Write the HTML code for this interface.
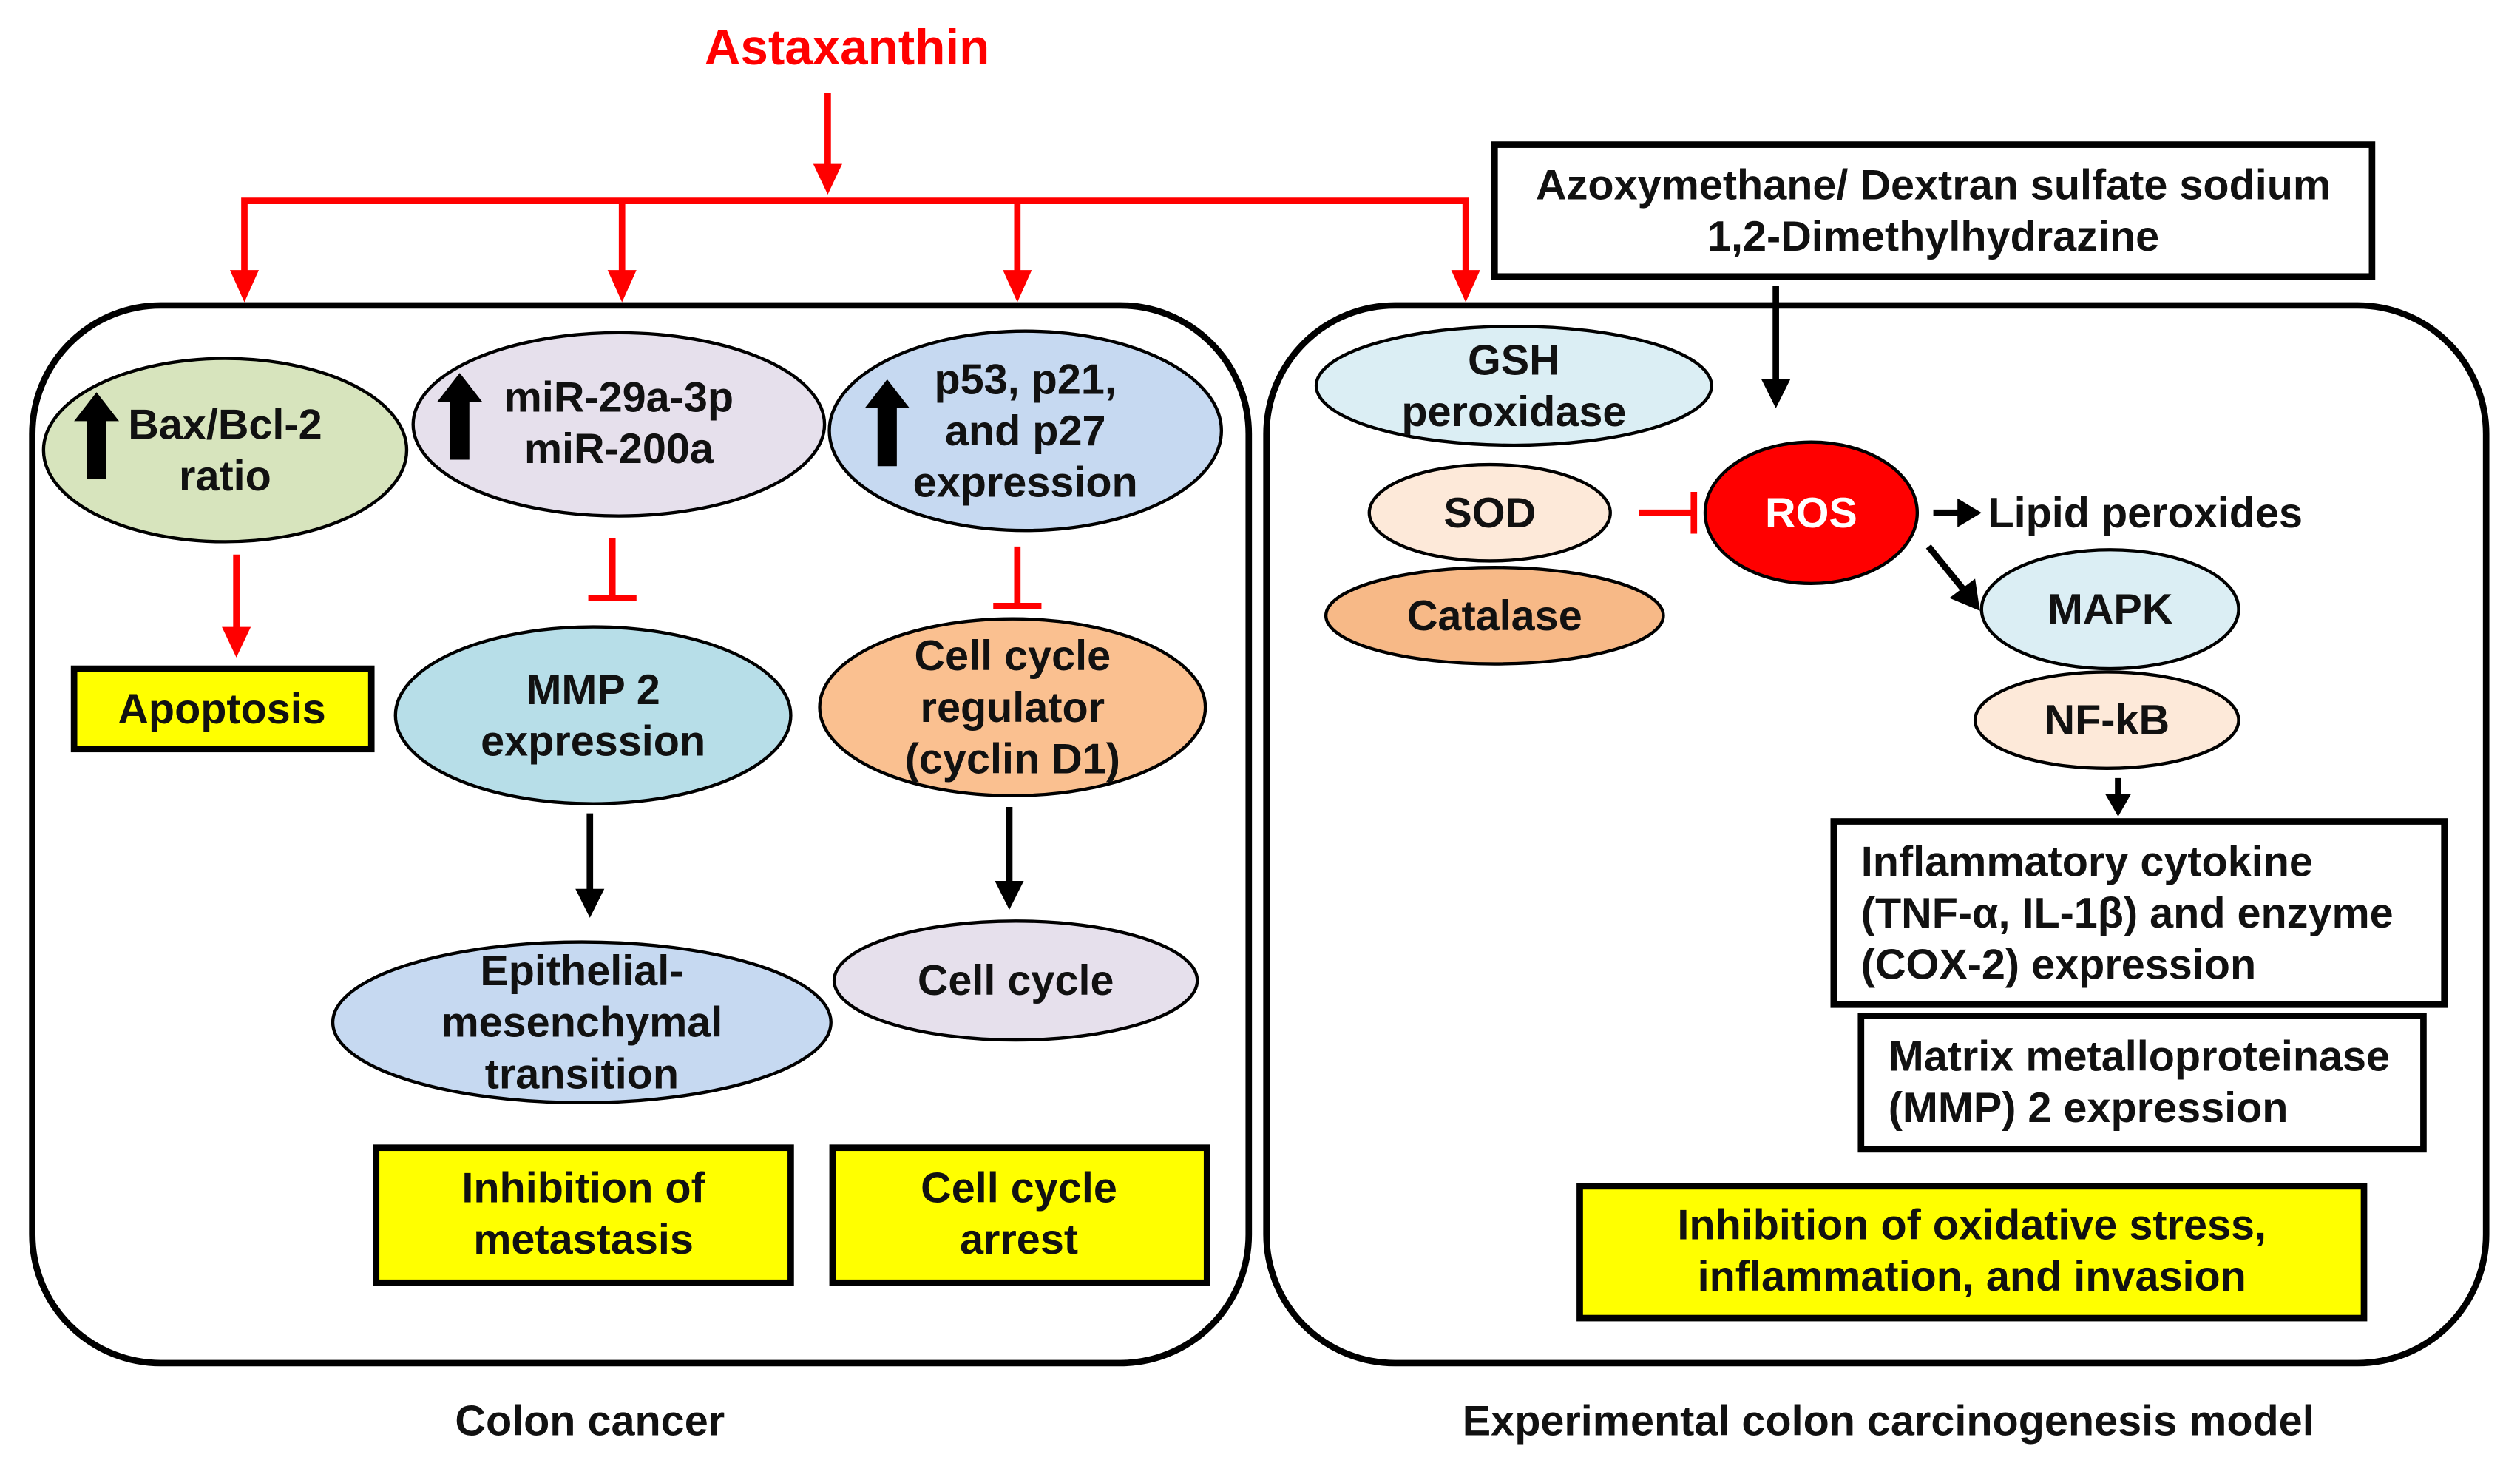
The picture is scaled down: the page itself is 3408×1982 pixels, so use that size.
<!DOCTYPE html>
<html><head><meta charset="utf-8"><style>
html,body{margin:0;padding:0;background:#fff;}
svg{display:block;}
text{font-family:"Liberation Sans",Arial,sans-serif;font-weight:bold;font-size:26.5px;fill:#111;}
</style></head><body>
<svg width="3408" height="1982" viewBox="0 0 1568 912" xmlns="http://www.w3.org/2000/svg">
<rect width="1568" height="912" fill="#fff"/>
<text x="527" y="40" text-anchor="middle" style="fill:#ff0000;font-size:31px">Astaxanthin</text>
<g stroke="#ff0000" stroke-width="4" fill="none">
<line x1="515" y1="58" x2="515" y2="110"/>
<polyline points="152,178 152,125 912,125 912,178"/>
<line x1="387" y1="125" x2="387" y2="178"/>
<line x1="633" y1="125" x2="633" y2="178"/>
</g>
<g fill="#ff0000">
<path d="M506,102 L524,102 L515,121 z"/>
<path d="M143,168 L161,168 L152,188 z"/><path d="M378,168 L396,168 L387,188 z"/>
<path d="M624,168 L642,168 L633,188 z"/><path d="M903,168 L921,168 L912,188 z"/>
</g>
<rect x="20" y="190" width="757" height="658" rx="80" fill="none" stroke="#000" stroke-width="4"/>
<rect x="788" y="190" width="759" height="658" rx="80" fill="none" stroke="#000" stroke-width="4"/>
<rect x="930" y="90" width="546" height="82" fill="#fff" stroke="#000" stroke-width="4"/>
<text x="1203" y="124" text-anchor="middle">Azoxymethane/ Dextran sulfate sodium</text>
<text x="1203" y="156" text-anchor="middle">1,2-Dimethylhydrazine</text>
<line x1="1105" y1="178" x2="1105" y2="244" stroke="#000" stroke-width="4"/>
<path d="M1096,236 L1114,236 L1105,254 z"/>
<g stroke="#000" stroke-width="2">
<ellipse cx="140" cy="280" rx="113" ry="57" fill="#d7e4bd"/>
<ellipse cx="385" cy="264" rx="128" ry="57" fill="#e6e0ec"/>
<ellipse cx="638" cy="268" rx="122" ry="62" fill="#c6d9f1"/>
<ellipse cx="369" cy="445" rx="123" ry="55" fill="#b7dee8"/>
<ellipse cx="630" cy="440" rx="120" ry="55" fill="#fac090"/>
<ellipse cx="362" cy="636" rx="155" ry="50" fill="#c6d9f1"/>
<ellipse cx="632" cy="610" rx="113" ry="37" fill="#e6e0ec"/>
</g>
<g fill="#000">
<path d="M60,244 L74,262 L66,262 L66,298 L54,298 L54,262 L46,262 z"/>
<path d="M286,232 L300,250 L292,250 L292,286 L280,286 L280,250 L272,250 z"/>
<path d="M552,236 L566,254 L558,254 L558,290 L546,290 L546,254 L538,254 z"/>
</g>
<text x="140" y="273" text-anchor="middle">Bax/Bcl-2</text>
<text x="140" y="305" text-anchor="middle">ratio</text>
<text x="385" y="256" text-anchor="middle">miR-29a-3p</text>
<text x="385" y="288" text-anchor="middle">miR-200a</text>
<text x="638" y="245" text-anchor="middle">p53, p21,</text>
<text x="638" y="277" text-anchor="middle">and p27</text>
<text x="638" y="309" text-anchor="middle">expression</text>
<text x="369" y="438" text-anchor="middle">MMP 2</text>
<text x="369" y="470" text-anchor="middle">expression</text>
<text x="630" y="417" text-anchor="middle">Cell cycle</text>
<text x="630" y="449" text-anchor="middle">regulator</text>
<text x="630" y="481" text-anchor="middle">(cyclin D1)</text>
<text x="362" y="613" text-anchor="middle">Epithelial-</text>
<text x="362" y="645" text-anchor="middle">mesenchymal</text>
<text x="362" y="677" text-anchor="middle">transition</text>
<text x="632" y="619" text-anchor="middle">Cell cycle</text>
<line x1="147" y1="345" x2="147" y2="395" stroke="#ff0000" stroke-width="4"/>
<path d="M138,390 L156,390 L147,409 z" fill="#ff0000"/>
<g stroke="#ff0000" stroke-width="4">
<line x1="381" y1="335" x2="381" y2="372"/><line x1="366" y1="372" x2="396" y2="372"/>
<line x1="633" y1="340" x2="633" y2="377"/><line x1="618" y1="377" x2="648" y2="377"/>
</g>
<g stroke="#000" stroke-width="4">
<line x1="367" y1="506" x2="367" y2="560"/><line x1="628" y1="502" x2="628" y2="555"/>
</g>
<path d="M358,553 L376,553 L367,571 z"/><path d="M619,548 L637,548 L628,566 z"/>
<g fill="#ffff00" stroke="#000" stroke-width="4">
<rect x="46" y="416" width="185" height="50"/>
<rect x="234" y="714" width="258" height="84"/>
<rect x="518" y="714" width="233" height="84"/>
<rect x="983" y="738" width="488" height="82"/>
</g>
<text x="138" y="450" text-anchor="middle">Apoptosis</text>
<text x="363" y="748" text-anchor="middle">Inhibition of</text>
<text x="363" y="780" text-anchor="middle">metastasis</text>
<text x="634" y="748" text-anchor="middle">Cell cycle</text>
<text x="634" y="780" text-anchor="middle">arrest</text>
<text x="1227" y="771" text-anchor="middle">Inhibition of oxidative stress,</text>
<text x="1227" y="803" text-anchor="middle">inflammation, and invasion</text>
<g stroke="#000" stroke-width="2">
<ellipse cx="942" cy="240" rx="123" ry="37" fill="#dbeef4"/>
<ellipse cx="927" cy="319" rx="75" ry="30" fill="#fde9d9"/>
<ellipse cx="930" cy="383" rx="105" ry="30" fill="#f7b987"/>
<ellipse cx="1127" cy="319" rx="66" ry="44" fill="#ff0000"/>
<ellipse cx="1313" cy="379" rx="80" ry="37" fill="#dbeef4"/>
<ellipse cx="1311" cy="448" rx="82" ry="30" fill="#fde9d9"/>
</g>
<text x="942" y="233" text-anchor="middle">GSH</text>
<text x="942" y="265" text-anchor="middle">peroxidase</text>
<text x="927" y="328" text-anchor="middle">SOD</text>
<text x="930" y="392" text-anchor="middle">Catalase</text>
<text x="1127" y="328" text-anchor="middle" style="fill:#fff">ROS</text>
<text x="1313" y="388" text-anchor="middle">MAPK</text>
<text x="1311" y="457" text-anchor="middle">NF-kB</text>
<g stroke="#ff0000" stroke-width="4">
<line x1="1020" y1="319" x2="1054" y2="319"/><line x1="1054" y1="306" x2="1054" y2="332"/>
</g>
<line x1="1203" y1="319" x2="1220" y2="319" stroke="#000" stroke-width="4"/>
<path d="M1218,310 L1233,319 L1218,328 z"/>
<text x="1237" y="328">Lipid peroxides</text>
<line x1="1200" y1="340" x2="1222" y2="367" stroke="#000" stroke-width="4"/>
<path d="M1213,372 L1229,360 L1232,380 z"/>
<line x1="1318" y1="484" x2="1318" y2="496" stroke="#000" stroke-width="4"/>
<path d="M1310,494 L1326,494 L1318,508 z"/>
<rect x="1141" y="511" width="380" height="114" fill="#fff" stroke="#000" stroke-width="4"/>
<text x="1158" y="545">Inflammatory cytokine</text>
<text x="1158" y="577">(TNF-α, IL-1β) and enzyme</text>
<text x="1158" y="609">(COX-2) expression</text>
<rect x="1158" y="632" width="350" height="83" fill="#fff" stroke="#000" stroke-width="4"/>
<text x="1175" y="666">Matrix metalloproteinase</text>
<text x="1175" y="698">(MMP) 2 expression</text>
<text x="367" y="893" text-anchor="middle">Colon cancer</text>
<text x="1175" y="893" text-anchor="middle">Experimental colon carcinogenesis model</text>
</svg>
</body></html>
